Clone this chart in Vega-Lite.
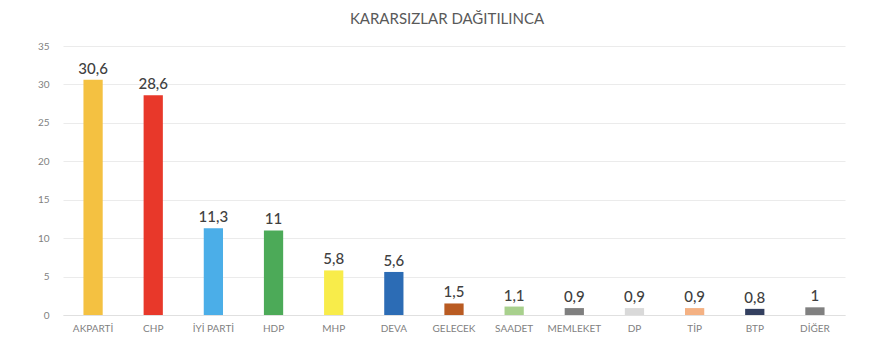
{
  "$schema": "https://vega.github.io/schema/vega-lite/v6.json",
  "autosize": {"type": "none"},
  "width": 782,
  "height": 269,
  "padding": {"left": 63, "top": 46, "right": 50, "bottom": 37},
  "background": "white",
  "config": {
    "font": "Lato",
    "view": {"stroke": null},
    "locale": {"number": {"decimal": ",", "thousands": ".", "grouping": [3], "currency": ["", " TL"]}}
  },
  "title": {
    "text": "KARARSIZLAR DAĞITILINCA",
    "fontSize": 15,
    "fontWeight": "normal",
    "color": "#595959",
    "anchor": "middle",
    "offset": 14,
    "dx": -7
  },
  "data": {
    "values": [
      {"parti": "AKPARTİ", "oy": 30.6, "renk": "#F4C141"},
      {"parti": "CHP", "oy": 28.6, "renk": "#E8382A"},
      {"parti": "İYİ PARTİ", "oy": 11.3, "renk": "#4BAEE8"},
      {"parti": "HDP", "oy": 11, "renk": "#4CAA58"},
      {"parti": "MHP", "oy": 5.8, "renk": "#F8EC4A"},
      {"parti": "DEVA", "oy": 5.6, "renk": "#2C6CB5"},
      {"parti": "GELECEK", "oy": 1.5, "renk": "#B95B22"},
      {"parti": "SAADET", "oy": 1.1, "renk": "#A8D08D"},
      {"parti": "MEMLEKET", "oy": 0.9, "renk": "#7F7F7F"},
      {"parti": "DP", "oy": 0.9, "renk": "#D9D9D9"},
      {"parti": "TİP", "oy": 0.9, "renk": "#F4B183"},
      {"parti": "BTP", "oy": 0.8, "renk": "#333F5F"},
      {"parti": "DİĞER", "oy": 1, "renk": "#808080"}
    ]
  },
  "encoding": {
    "x": {
      "field": "parti",
      "type": "nominal",
      "sort": null,
      "scale": {"paddingInner": 0.68, "paddingOuter": 0.34},
      "axis": {
        "title": null,
        "labelAngle": 0,
        "labelFontSize": 10,
        "labelColor": "#7f7f7f",
        "labelPadding": 8,
        "ticks": false,
        "domainColor": "#e0e0e0",
        "domainWidth": 1
      }
    },
    "y": {
      "field": "oy",
      "type": "quantitative",
      "scale": {"domain": [0, 35]},
      "axis": {
        "title": null,
        "values": [0, 5, 10, 15, 20, 25, 30, 35],
        "labelFontSize": 10,
        "labelColor": "#7f7f7f",
        "labelPadding": 14,
        "ticks": false,
        "domain": false,
        "gridColor": "#ebebeb",
        "gridWidth": 1
      }
    }
  },
  "layer": [
    {
      "mark": {"type": "bar"},
      "encoding": {
        "color": {"field": "renk", "type": "nominal", "scale": null, "legend": null}
      }
    },
    {
      "mark": {"type": "text", "dy": -11, "fontSize": 15, "color": "#404040", "fontWeight": 500},
      "encoding": {
        "text": {"field": "oy", "type": "quantitative", "format": "~g"}
      }
    }
  ]
}
